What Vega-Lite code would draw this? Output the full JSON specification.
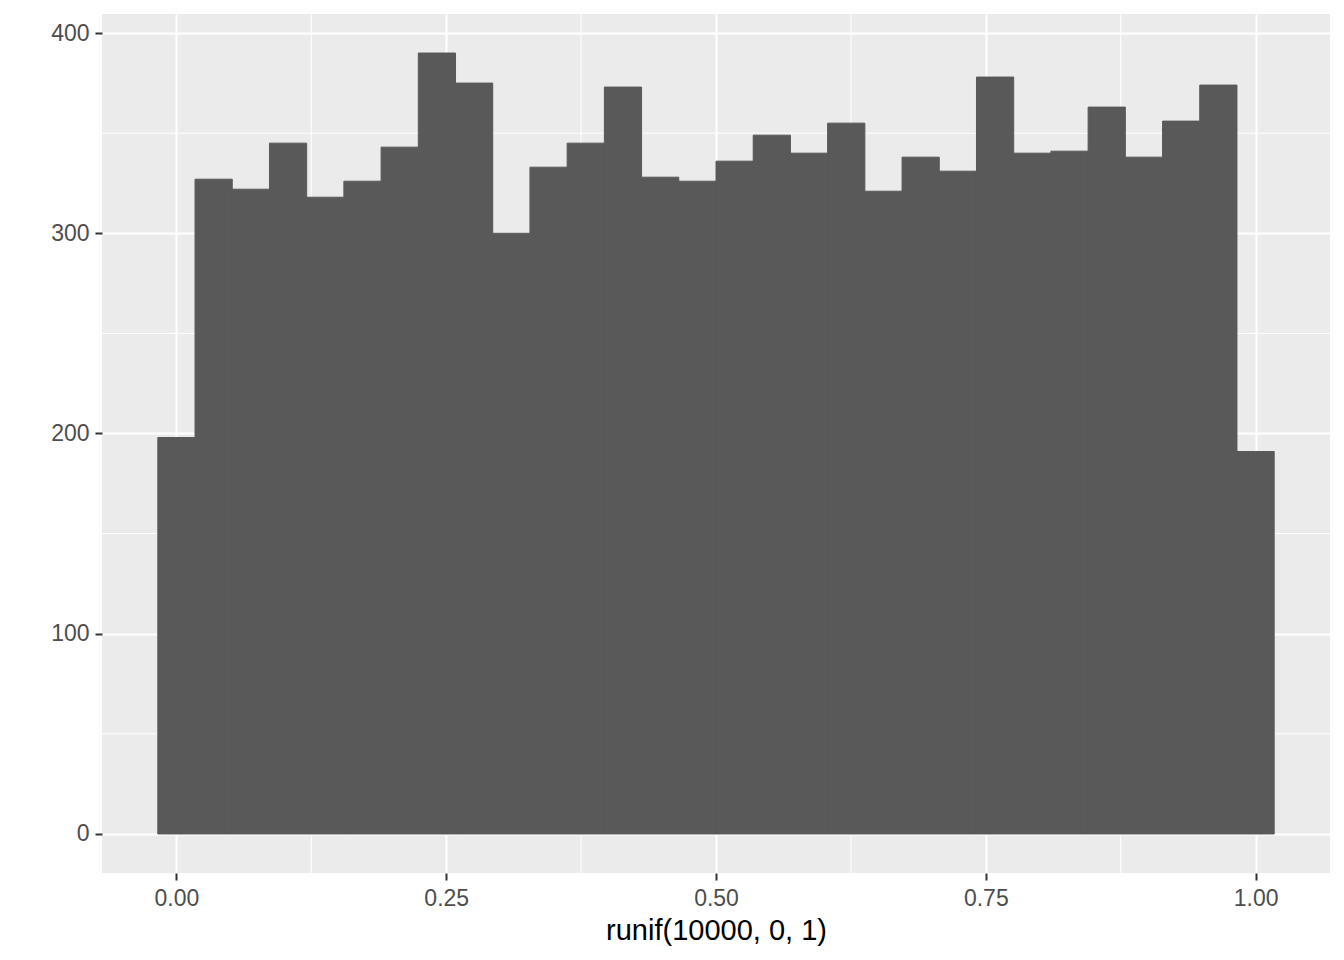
{
  "$schema": "https://vega.github.io/schema/vega-lite/v6.json",
  "width": 1228,
  "height": 859,
  "autosize": {"type": "none"},
  "padding": {"left": 102, "top": 14, "right": 14, "bottom": 87},
  "background": "white",
  "config": {
    "view": {"fill": "#EBEBEB", "stroke": null},
    "font": "Liberation Sans",
    "axis": {
      "domain": false,
      "grid": true,
      "gridColor": "white",
      "gridWidth": 2,
      "tickColor": "#333333",
      "tickWidth": 2,
      "tickSize": 7,
      "labelColor": "#4D4D4D",
      "labelFont": "Liberation Sans",
      "labelFontSize": 23,
      "titleFont": "Liberation Sans",
      "titleFontSize": 29,
      "titleFontWeight": "normal",
      "titleColor": "black"
    }
  },
  "layer": [
    {
      "data": {"values": [{"v": 0.125}, {"v": 0.375}, {"v": 0.625}, {"v": 0.875}]},
      "mark": {"type": "rule", "color": "white", "strokeWidth": 1},
      "encoding": {
        "x": {"field": "v", "type": "quantitative", "title": "runif(10000, 0, 1)",
              "scale": {"domain": [-0.06897, 1.06897], "nice": false, "zero": false},
              "axis": {"values": [0, 0.25, 0.5, 0.75, 1], "format": ".2f", "labelPadding": 7, "titlePadding": 6}}
      }
    },
    {
      "data": {"values": [{"v": 50}, {"v": 150}, {"v": 250}, {"v": 350}]},
      "mark": {"type": "rule", "color": "white", "strokeWidth": 1},
      "encoding": {
        "y": {"field": "v", "type": "quantitative", "title": null,
              "scale": {"domain": [-19.5, 409.5], "nice": false, "zero": false},
              "axis": {"values": [0, 100, 200, 300, 400], "labelPadding": 6}}
      }
    },
    {
      "data": {"values": [
        {"x0": -0.01724, "x1": 0.01724, "count": 198},
        {"x0": 0.01724, "x1": 0.05172, "count": 327},
        {"x0": 0.05172, "x1": 0.08621, "count": 322},
        {"x0": 0.08621, "x1": 0.12069, "count": 345},
        {"x0": 0.12069, "x1": 0.15517, "count": 318},
        {"x0": 0.15517, "x1": 0.18966, "count": 326},
        {"x0": 0.18966, "x1": 0.22414, "count": 343},
        {"x0": 0.22414, "x1": 0.25862, "count": 390},
        {"x0": 0.25862, "x1": 0.29310, "count": 375},
        {"x0": 0.29310, "x1": 0.32759, "count": 300},
        {"x0": 0.32759, "x1": 0.36207, "count": 333},
        {"x0": 0.36207, "x1": 0.39655, "count": 345},
        {"x0": 0.39655, "x1": 0.43103, "count": 373},
        {"x0": 0.43103, "x1": 0.46552, "count": 328},
        {"x0": 0.46552, "x1": 0.50000, "count": 326},
        {"x0": 0.50000, "x1": 0.53448, "count": 336},
        {"x0": 0.53448, "x1": 0.56897, "count": 349},
        {"x0": 0.56897, "x1": 0.60345, "count": 340},
        {"x0": 0.60345, "x1": 0.63793, "count": 355},
        {"x0": 0.63793, "x1": 0.67241, "count": 321},
        {"x0": 0.67241, "x1": 0.70690, "count": 338},
        {"x0": 0.70690, "x1": 0.74138, "count": 331},
        {"x0": 0.74138, "x1": 0.77586, "count": 378},
        {"x0": 0.77586, "x1": 0.81034, "count": 340},
        {"x0": 0.81034, "x1": 0.84483, "count": 341},
        {"x0": 0.84483, "x1": 0.87931, "count": 363},
        {"x0": 0.87931, "x1": 0.91379, "count": 338},
        {"x0": 0.91379, "x1": 0.94828, "count": 356},
        {"x0": 0.94828, "x1": 0.98276, "count": 374},
        {"x0": 0.98276, "x1": 1.01724, "count": 191}
      ]},
      "mark": {"type": "rect", "fill": "#595959", "stroke": "#595959", "strokeWidth": 1},
      "encoding": {
        "x": {"field": "x0", "type": "quantitative", "title": "runif(10000, 0, 1)",
              "scale": {"domain": [-0.06897, 1.06897], "nice": false, "zero": false},
              "axis": {"values": [0, 0.25, 0.5, 0.75, 1], "format": ".2f", "labelPadding": 7, "titlePadding": 6}},
        "x2": {"field": "x1"},
        "y": {"field": "count", "type": "quantitative", "title": null,
              "scale": {"domain": [-19.5, 409.5], "nice": false, "zero": false},
              "axis": {"values": [0, 100, 200, 300, 400], "labelPadding": 6}},
        "y2": {"datum": 0}
      }
    }
  ]
}
